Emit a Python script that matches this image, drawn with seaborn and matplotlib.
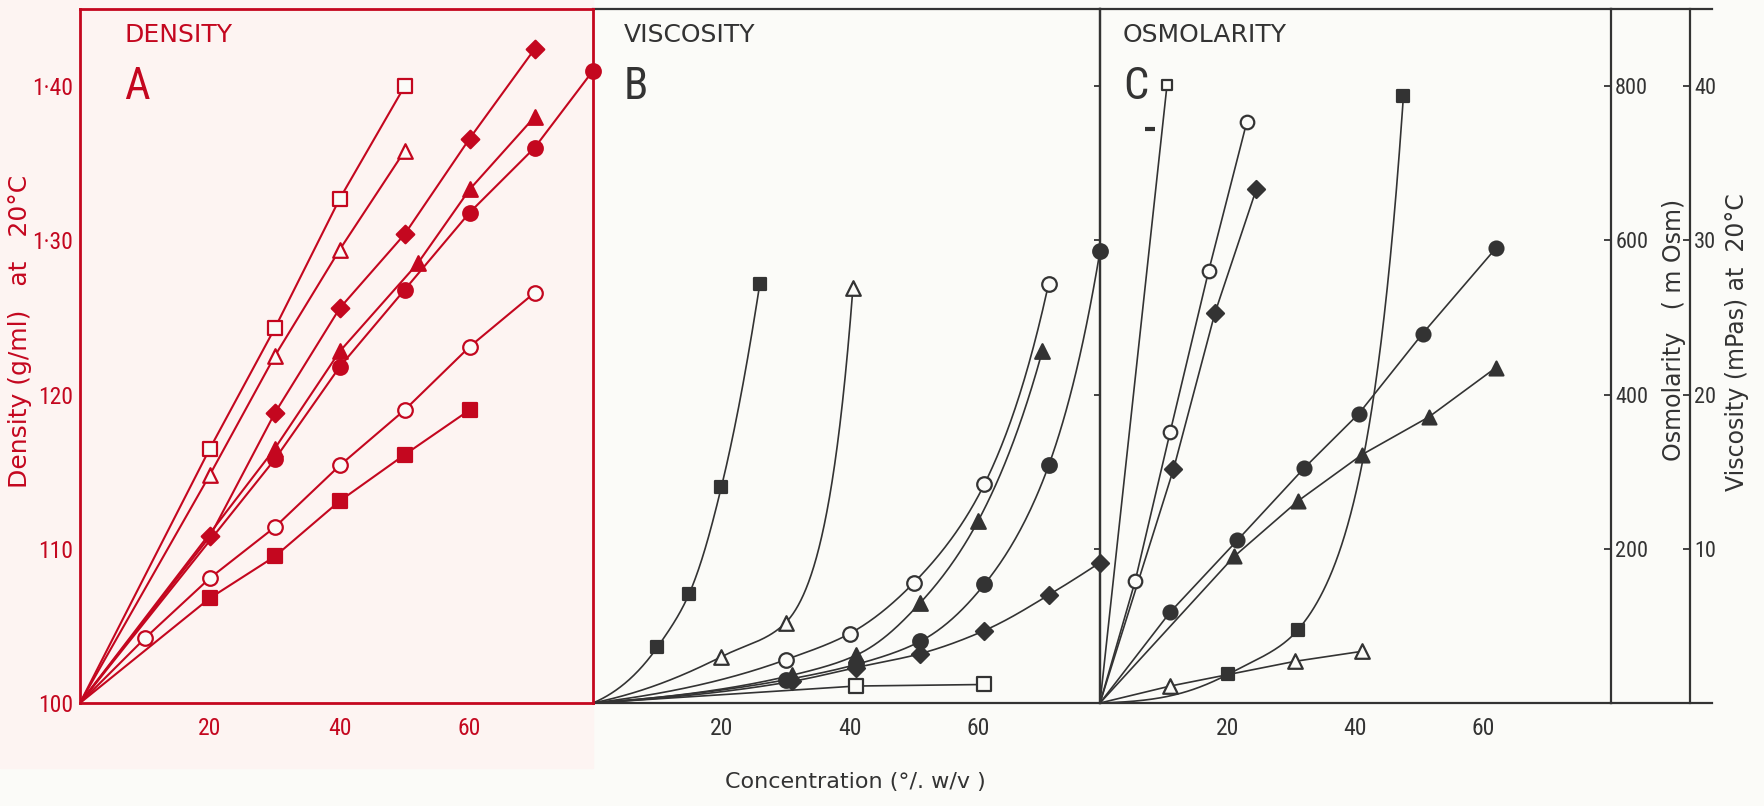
import numpy as np
import matplotlib
matplotlib.use("Agg")
import matplotlib.pyplot as plt
from matplotlib import font_manager
from matplotlib.patches import Rectangle
import seaborn as sns

# ---------------- data ----------------
# Panel A : density (g/ml) at 20 C  vs concentration (% w/v)
A_origin = 1.00
A_sq_open_x = [20, 30, 40, 50]
A_sq_open_y = [1.165, 1.243, 1.327, 1.400]
A_tri_open_x = [20, 30, 40, 50]
A_tri_open_y = [1.148, 1.225, 1.294, 1.358]
A_dia_x = [20, 30, 40, 50, 60, 70]
A_dia_y = [1.108, 1.188, 1.256, 1.304, 1.366, 1.424]
A_tri_fill_x = [30, 40, 52, 60, 70]
A_tri_fill_y = [1.165, 1.228, 1.285, 1.333, 1.380]
A_circ_fill_x = [30, 40, 50, 60, 70, 79]
A_circ_fill_y = [1.158, 1.218, 1.268, 1.318, 1.360, 1.410]
A_circ_open_x = [10, 20, 30, 40, 50, 60, 70]
A_circ_open_y = [1.042, 1.081, 1.114, 1.154, 1.190, 1.231, 1.266]
A_sq_fill_x = [20, 30, 40, 50, 60]
A_sq_fill_y = [1.068, 1.095, 1.131, 1.161, 1.190]

# Panel B : viscosity (mPas) at 20 C
B_origin = 0.0
B_sq_fill_x = [10, 15, 20, 26]
B_sq_fill_y = [3.6, 7.1, 14.0, 27.2]
B_tri_open_x = [20, 30, 40.5]
B_tri_open_y = [3.0, 5.2, 26.9]
B_circ_open_x = [30, 40, 50, 61, 71]
B_circ_open_y = [2.8, 4.5, 7.8, 14.2, 27.2]
B_tri_fill_x = [31, 41, 51, 60, 70]
B_tri_fill_y = [1.8, 3.1, 6.5, 11.8, 22.8]
B_circ_fill_x = [30, 41, 51, 61, 71, 79]
B_circ_fill_y = [1.5, 2.5, 4.0, 7.7, 15.4, 29.3]
B_dia_x = [31, 41, 51, 61, 71, 79]
B_dia_y = [1.4, 2.3, 3.2, 4.7, 7.0, 9.1]
B_sq_open_x = [41, 61]
B_sq_open_y = [1.1, 1.2]

# Panel C : osmolarity (m Osm)
C_origin = 0.0
C_sq_open_x = [10.5]
C_sq_open_y = [802]
C_dash_x = [7.9]
C_dash_y = [744]
C_circ_open_x = [5.5, 11, 17, 23]
C_circ_open_y = [158, 352, 560, 754]
C_dia_x = [11.5, 18, 24.5]
C_dia_y = [303, 506, 667]
C_sq_fill_x = [20, 31, 47.5]
C_sq_fill_y = [37, 95, 787]
C_circ_fill_x = [11, 21.5, 32, 40.5, 50.5, 62]
C_circ_fill_y = [118, 211, 305, 375, 479, 590]
C_tri_fill_x = [21, 31, 41, 51.5, 62]
C_tri_fill_y = [190, 262, 322, 371, 435]
C_tri_open_x = [11, 30.5, 41]
C_tri_open_y = [22, 54, 67]

x_ticks = [20, 40, 60]
A_yticks = [1.00, 1.10, 1.20, 1.30, 1.40]
A_yticklabels = ["100", "110", "120", "1·30", "1·40"]
osm_ticks = [200, 400, 600, 800]
visc_ticks = [10, 20, 30, 40]

# ---------------- style ----------------
sns.set_theme(style="white")

# a narrow sans face for the numerals (the original lettering is condensed)
_entries = font_manager.fontManager.ttflist
_narrow = None
for cand in ("Roboto Condensed", "Liberation Sans Narrow", "Open Sans Condensed",
             "Noto Sans Condensed", "DejaVu Sans Condensed"):
    for f in _entries:
        if f.name == cand and f.style == "normal" and f.weight in (400, "normal", "regular"):
            _narrow = cand
            break
    if _narrow:
        break
if _narrow is not None:
    plt.rcParams["font.family"] = [_narrow, "DejaVu Sans"]
    TICKFS = 17
else:
    plt.rcParams["font.family"] = ["DejaVu Sans"]
    TICKFS = 14
WIDE = ["DejaVu Sans"]

RED = "#c4071f"
DARK = "#333333"
BG = "#fbfbf8"
PINK = "#fdf4f2"

W, H = 1764, 806
fig = plt.figure(figsize=(W / 100, H / 100), dpi=100, facecolor=BG)


def fx(px):
    return px / W


def fy(py):
    return 1 - py / H


TOP, BOT = 9, 703
bottom, height = fy(BOT), (BOT - TOP) / H

fig.patches.append(Rectangle((0, fy(768)), fx(593), 1 - fy(768),
                             transform=fig.transFigure, color=PINK, zorder=-5))

axA = fig.add_axes([fx(80), bottom, fx(593 - 80), height])
axB = fig.add_axes([fx(593), bottom, fx(1100 - 593), height])
axC = fig.add_axes([fx(1100), bottom, fx(1611 - 1100), height])
axV = fig.add_axes([fx(1611), bottom, fx(1712 - 1611), height])

axA.set_facecolor(PINK)
for ax in (axB, axC, axV):
    ax.set_facecolor("none")


def pchip(x, y, xs):
    x = np.asarray(x, float)
    y = np.asarray(y, float)
    h = np.diff(x)
    d = np.diff(y) / h
    n = len(x)
    m = np.zeros(n)
    for k in range(1, n - 1):
        if d[k - 1] * d[k] > 0:
            w1 = 2 * h[k] + h[k - 1]
            w2 = h[k] + 2 * h[k - 1]
            m[k] = (w1 + w2) / (w1 / d[k - 1] + w2 / d[k])
    if n > 2:
        m0 = ((2 * h[0] + h[1]) * d[0] - h[0] * d[1]) / (h[0] + h[1])
        m[0] = m0 if np.sign(m0) == np.sign(d[0]) else 0
        mn = ((2 * h[-1] + h[-2]) * d[-1] - h[-1] * d[-2]) / (h[-1] + h[-2])
        m[-1] = mn if np.sign(mn) == np.sign(d[-1]) else 0
    else:
        m[:] = d[0]
    idx = np.clip(np.searchsorted(x, xs) - 1, 0, n - 2)
    t = (xs - x[idx]) / h[idx]
    h00 = 2 * t**3 - 3 * t**2 + 1
    h10 = t**3 - 2 * t**2 + t
    h01 = -2 * t**3 + 3 * t**2
    h11 = t**3 - t**2
    return (h00 * y[idx] + h10 * h[idx] * m[idx]
            + h01 * y[idx + 1] + h11 * h[idx] * m[idx + 1])


def series(ax, x, y, y0, marker, filled, color, smooth=False, lw=1.3, s=95):
    lx = np.array([0.0] + list(x))
    ly = np.array([y0] + list(y))
    if smooth:
        xs = np.linspace(lx[0], lx[-1], 300)
        ys = np.expm1(pchip(lx, np.log1p(ly), xs))
        lx, ly = xs, ys
    sns.lineplot(x=lx, y=ly, ax=ax, color=color, lw=lw, sort=False,
                 estimator=None, legend=False)
    sns.scatterplot(x=x, y=y, ax=ax, marker=marker, s=s,
                    facecolor=color if filled else BG, edgecolor=color,
                    linewidth=1.6, zorder=4, legend=False, clip_on=False)


# ---- Panel A
for (x, y, mk, fl, s) in [
    (A_sq_open_x, A_sq_open_y, "s", False, 95),
    (A_tri_open_x, A_tri_open_y, "^", False, 110),
    (A_dia_x, A_dia_y, "D", True, 80),
    (A_tri_fill_x, A_tri_fill_y, "^", True, 110),
    (A_circ_fill_x, A_circ_fill_y, "o", True, 110),
    (A_circ_open_x, A_circ_open_y, "o", False, 110),
    (A_sq_fill_x, A_sq_fill_y, "s", True, 95),
]:
    series(axA, x, y, A_origin, mk, fl, RED, lw=1.5, s=s)

# ---- Panel B
for (x, y, mk, fl, s) in [
    (B_sq_fill_x, B_sq_fill_y, "s", True, 85),
    (B_tri_open_x, B_tri_open_y, "^", False, 110),
    (B_circ_open_x, B_circ_open_y, "o", False, 110),
    (B_tri_fill_x, B_tri_fill_y, "^", True, 110),
    (B_circ_fill_x, B_circ_fill_y, "o", True, 110),
    (B_dia_x, B_dia_y, "D", True, 75),
]:
    series(axB, x, y, B_origin, mk, fl, DARK, smooth=True, lw=1.2, s=s)
series(axB, B_sq_open_x, B_sq_open_y, B_origin, "s", False, DARK, lw=1.2, s=95)

# ---- Panel C
for (x, y, mk, fl, s) in [
    (C_sq_open_x, C_sq_open_y, "s", False, 60),
    (C_circ_open_x, C_circ_open_y, "o", False, 95),
    (C_dia_x, C_dia_y, "D", True, 75),
    (C_circ_fill_x, C_circ_fill_y, "o", True, 100),
    (C_tri_fill_x, C_tri_fill_y, "^", True, 100),
    (C_tri_open_x, C_tri_open_y, "^", False, 110),
]:
    series(axC, x, y, C_origin, mk, fl, DARK, lw=1.2, s=s)
series(axC, C_sq_fill_x, C_sq_fill_y, C_origin, "s", True, DARK, smooth=True,
       lw=1.2, s=75)
sns.scatterplot(x=C_dash_x, y=C_dash_y, ax=axC, marker="_", s=50,
                color=DARK, linewidth=3, legend=False)

# ---------------- axes styling ----------------
axA.set_xlim(0, 79)
axB.set_xlim(0, 79)
axC.set_xlim(0, 80)
axA.set_ylim(1.00, 1.45)
axB.set_ylim(0, 45)
axC.set_ylim(0, 900)
axV.set_ylim(0, 45)
axV.set_xlim(0, 1)

for ax in (axA, axB, axC):
    ax.set_xticks(x_ticks)
    ax.set_xlabel("")
    ax.set_ylabel("")
    ax.tick_params(axis="x", direction="in", length=6, width=1.3,
                   labelsize=TICKFS, pad=10)

# A
for sp in axA.spines.values():
    sp.set_color(RED)
    sp.set_linewidth(2.0)
axA.set_yticks(A_yticks)
axA.set_yticklabels(A_yticklabels)
axA.tick_params(axis="y", direction="out", length=4, width=1.5, colors=RED,
                labelsize=TICKFS, pad=1)
axA.tick_params(axis="x", colors=RED)
axA.set_zorder(3)

# B
axB.spines["left"].set_visible(False)
for k in ("top", "bottom", "right"):
    axB.spines[k].set_color(DARK)
    axB.spines[k].set_linewidth(1.6)
axB.yaxis.tick_right()
axB.set_yticks(visc_ticks)
axB.set_yticklabels([])
axB.tick_params(axis="y", direction="in", length=4, width=1.3, colors=DARK)
axB.tick_params(axis="x", colors=DARK)

# C
for k in ("top", "bottom", "right", "left"):
    axC.spines[k].set_color(DARK)
    axC.spines[k].set_linewidth(1.6)
axC.yaxis.tick_right()
axC.set_yticks(osm_ticks)
axC.tick_params(axis="y", direction="in", length=5, width=1.3, colors=DARK,
                labelsize=TICKFS - 1, pad=3)
axC.tick_params(axis="x", colors=DARK)

# viscosity axis
axV.spines["left"].set_visible(False)
for k in ("top", "bottom", "right"):
    axV.spines[k].set_color(DARK)
    axV.spines[k].set_linewidth(1.6)
axV.spines["right"].set_position(("axes", (1690 - 1611) / (1712 - 1611)))
axV.set_xticks([])
axV.yaxis.tick_right()
axV.set_yticks(visc_ticks)
axV.tick_params(axis="y", direction="in", length=5, width=1.3, colors=DARK,
                labelsize=TICKFS - 1, pad=3)

# panel titles
axA.text(0.086, 0.962, "DENSITY", transform=axA.transAxes, color=RED,
         fontsize=18, va="center", ha="left", family=WIDE)
axA.text(0.085, 0.888, "A", transform=axA.transAxes, color=RED,
         fontsize=32, va="center", ha="left")
axB.text(0.06, 0.962, "VISCOSITY", transform=axB.transAxes, color=DARK,
         fontsize=18, va="center", ha="left", family=WIDE)
axB.text(0.06, 0.888, "B", transform=axB.transAxes, color=DARK,
         fontsize=32, va="center", ha="left")
axC.text(0.045, 0.962, "OSMOLARITY", transform=axC.transAxes, color=DARK,
         fontsize=18, va="center", ha="left", family=WIDE)
axC.text(0.045, 0.888, "C", transform=axC.transAxes, color=DARK,
         fontsize=32, va="center", ha="left")

# axis labels
fig.text(fx(20), fy(331), "Density (g/ml)   at   20°C", rotation=90, color=RED,
         fontsize=18, ha="center", va="center", family=WIDE)
fig.text(fx(855), fy(782), "Concentration (°/. w/v )", color=DARK,
         fontsize=16, ha="center", va="center", family=WIDE)
fig.text(fx(1674), fy(330), "Osmolarity   ( m Osm)", rotation=90, color=DARK,
         fontsize=17, ha="center", va="center", family=WIDE)
fig.text(fx(1737), fy(342), "Viscosity (mPas) at  20°C", rotation=90,
         color=DARK, fontsize=17, ha="center", va="center", family=WIDE)

fig.savefig("out.png", dpi=100, facecolor=BG)
